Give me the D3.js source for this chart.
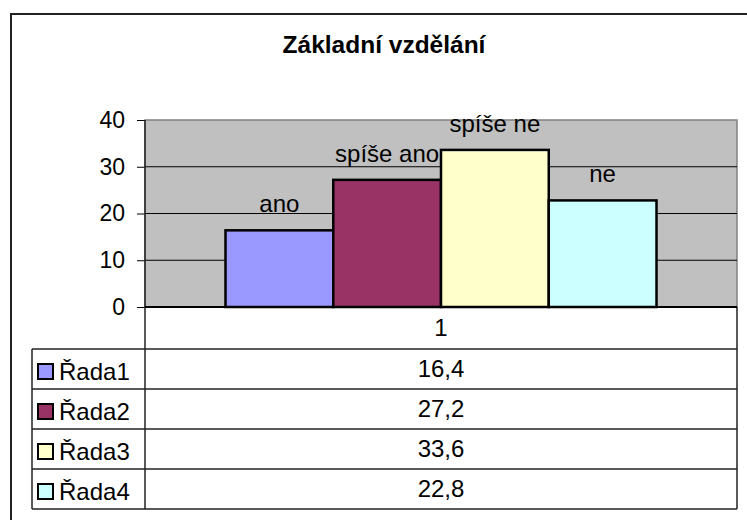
<!DOCTYPE html>
<meta charset="utf-8">
<script src="https://d3js.org/d3.v7.min.js"></script>
<style>
body { margin: 0; background: #fff; }
svg { display: block; font-family: "Liberation Sans", Arial, sans-serif; }
.axis path { stroke: none; }
.axis .tick line { stroke: #000; }
.axis .tick text { font-size: 23px; fill: #000; }
.grid line { stroke: #000; stroke-width: 1; }
.bar { stroke: #000; stroke-width: 2.5; }
.cell-line { stroke: #222; stroke-width: 1.5; }
</style>
<body>
</body>
<script>

var categories = ["1"];
var seriesNames = ["Řada1", "Řada2", "Řada3", "Řada4"];
var seriesValues = [16.4, 27.2, 33.6, 22.8];
var barLabels = ["ano", "spíše ano", "spíše ne", "ne"];
var seriesColors = ["#9999ff", "#993366", "#ffffcc", "#ccffff"];
var yTicks = [0, 10, 20, 30, 40];

var W = 747, H = 520;
var plot = {left: 145, right: 737, top: 120, bottom: 307};
var tableLeft = 32, rowH = 40, headerBottom = 349;

var svg = d3.select("body").append("svg")
  .attr("width", W)
  .attr("height", H);

// outer chart frame
svg.append("rect")
  .attr("x", 11).attr("y", 14)
  .attr("width", W + 10).attr("height", H + 10)
  .attr("fill", "#fff")
  .attr("stroke", "#222")
  .attr("stroke-width", 2);

svg.append("text")
  .attr("x", 384).attr("y", 53)
  .attr("text-anchor", "middle")
  .attr("font-size", "24.5px")
  .attr("font-weight", "bold")
  .text("Základní vzdělání");

var yScale = d3.scaleLinear()
  .domain([0, 40])
  .range([plot.bottom, plot.top]);

// bar group is ~431px wide inside the 592px plot
var groupShare = 431 / 592;
var xScale = d3.scaleBand()
  .domain(categories)
  .range([plot.left, plot.right])
  .paddingInner(0)
  .paddingOuter((1 - groupShare) / 2 / groupShare);

var seriesScale = d3.scaleBand()
  .domain(seriesNames)
  .range([0, xScale.bandwidth()]);

// plot background
svg.append("rect")
  .attr("x", plot.left).attr("y", plot.top)
  .attr("width", plot.right - plot.left)
  .attr("height", plot.bottom - plot.top)
  .attr("fill", "#c0c0c0")
  .attr("stroke", "#808080")
  .attr("stroke-width", 1.5);

svg.append("g")
  .attr("class", "grid")
  .selectAll("line")
  .data(yTicks.filter(function(d) { return d > 0 && d < 40; }))
  .enter().append("line")
  .attr("x1", plot.left).attr("x2", plot.right)
  .attr("y1", function(d) { return yScale(d); })
  .attr("y2", function(d) { return yScale(d); });

var bars = svg.append("g");
categories.forEach(function(cat) {
  bars.selectAll(".bar")
    .data(seriesValues).enter().append("rect")
    .attr("class", "bar")
    .attr("x", function(d, i) { return xScale(cat) + seriesScale(seriesNames[i]); })
    .attr("y", function(d) { return yScale(d); })
    .attr("width", seriesScale.bandwidth())
    .attr("height", function(d) { return yScale(0) - yScale(d); })
    .attr("fill", function(d, i) { return seriesColors[i]; });

  bars.selectAll(".bar-label")
    .data(seriesValues).enter().append("text")
    .attr("class", "bar-label")
    .attr("x", function(d, i) { return xScale(cat) + seriesScale(seriesNames[i]) + seriesScale.bandwidth() / 2; })
    .attr("y", function(d) { return yScale(d) - 18; })
    .attr("text-anchor", "middle")
    .attr("font-size", "24px")
    .text(function(d, i) { return barLabels[i]; });
});

var yAxis = d3.axisLeft(yScale)
  .tickValues(yTicks)
  .tickSize(8)
  .tickPadding(12);

svg.append("g")
  .attr("class", "axis")
  .attr("transform", "translate(" + plot.left + ",0)")
  .call(yAxis);

// data table under the plot
var tableBottom = headerBottom + rowH * seriesNames.length;
var lines = svg.append("g");

lines.append("line").attr("class", "cell-line")
  .attr("x1", plot.left).attr("x2", plot.left)
  .attr("y1", plot.top).attr("y2", tableBottom);
lines.append("line").attr("class", "cell-line")
  .attr("x1", plot.right).attr("x2", plot.right)
  .attr("y1", plot.bottom).attr("y2", tableBottom);
lines.append("line").attr("class", "cell-line")
  .attr("x1", tableLeft).attr("x2", tableLeft)
  .attr("y1", headerBottom).attr("y2", tableBottom);
lines.append("line").attr("class", "cell-line")
  .attr("x1", plot.left).attr("x2", plot.right)
  .attr("y1", plot.bottom).attr("y2", plot.bottom)
  .style("stroke", "#000").style("stroke-width", 2);

lines.selectAll(".row-line")
  .data(d3.range(seriesNames.length + 1)).enter().append("line")
  .attr("class", "cell-line row-line")
  .attr("x1", tableLeft).attr("x2", plot.right)
  .attr("y1", function(i) { return headerBottom + i * rowH; })
  .attr("y2", function(i) { return headerBottom + i * rowH; });

svg.selectAll(".cat-label")
  .data(categories).enter().append("text")
  .attr("class", "cat-label")
  .attr("x", function(d) { return xScale(d) + xScale.bandwidth() / 2; })
  .attr("y", 336)
  .attr("text-anchor", "middle")
  .attr("font-size", "24px")
  .text(function(d) { return d; });

var rows = svg.selectAll(".row")
  .data(seriesNames).enter().append("g")
  .attr("class", "row")
  .attr("transform", function(d, i) { return "translate(0," + (headerBottom + i * rowH) + ")"; });

rows.append("rect")
  .attr("x", 38).attr("y", 15)
  .attr("width", 15).attr("height", 15)
  .attr("fill", function(d, i) { return seriesColors[i]; })
  .attr("stroke", "#000")
  .attr("stroke-width", 2);

rows.append("text")
  .attr("x", 59).attr("y", 31)
  .attr("font-size", "24px")
  .text(function(d) { return d; });

rows.append("text")
  .attr("x", (plot.left + plot.right) / 2)
  .attr("y", 28)
  .attr("text-anchor", "middle")
  .attr("font-size", "24px")
  .text(function(d, i) { return String(seriesValues[i]).replace(".", ","); });

</script>
